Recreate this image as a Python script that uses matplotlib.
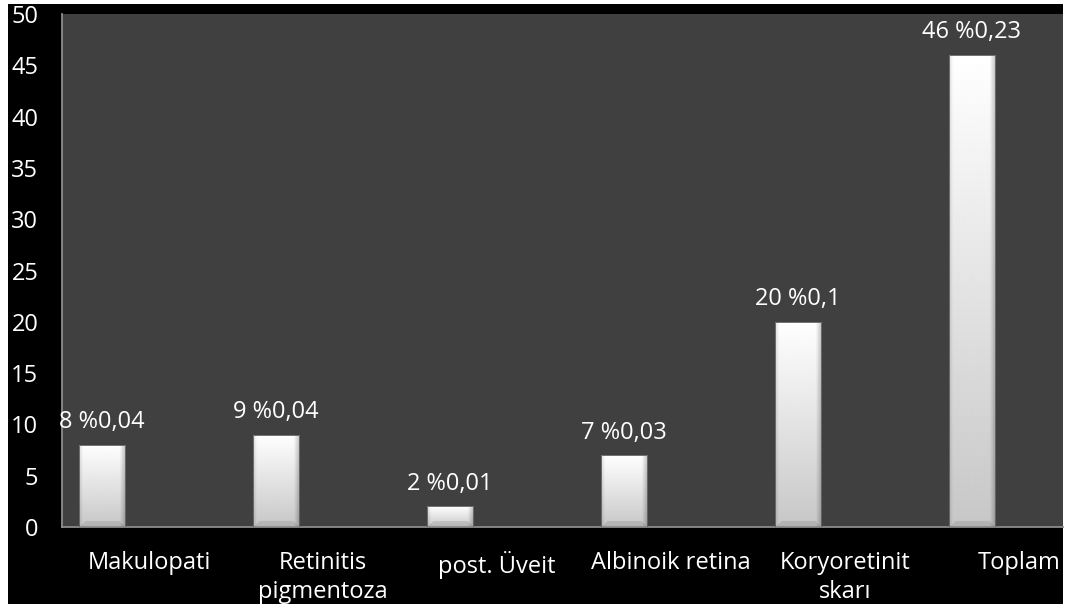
import numpy as np
import matplotlib
matplotlib.use("Agg")
import matplotlib.pyplot as plt
from matplotlib.patches import Rectangle

# Vaka sayıları ve oranları
categories = ["Makulopati", "Retinitis\npigmentoza", "post. Üveit",
              "Albinoik retina", "Koryoretinit\nskarı", "Toplam"]
counts = [8, 9, 2, 7, 20, 46]
ratios = [0.04, 0.04, 0.01, 0.03, 0.1, 0.23]
yticks = list(range(0, 51, 5))

W, H = 1069, 610
plt.rcParams["font.family"] = ["Open Sans", "DejaVu Sans"]
FS = 17

fig = plt.figure(figsize=(W / 100, H / 100), dpi=100, facecolor="white")
# black frame behind the chart
fig.patches.append(Rectangle((8 / W, 6 / H), 1055 / W, 600 / H,
                             transform=fig.transFigure, facecolor="black",
                             edgecolor="none", zorder=-10))

ax = fig.add_axes([62 / W, 83 / H, 1001 / W, 513 / H])
ax.set_facecolor("#404040")
ax.set_xlim(-0.5, 5.254)
ax.set_ylim(0, 50)
for s in ["top", "right"]:
    ax.spines[s].set_visible(False)
for s in ["left", "bottom"]:
    ax.spines[s].set_color("#8c8c8c")
    ax.spines[s].set_linewidth(1.3)

x = np.arange(len(categories))
bars = ax.bar(x - 0.27, counts, width=0.265, color="none",
              edgecolor="#5a5a5a", linewidth=0.6, zorder=3)


def bar_shading(nx, ny):
    """White-to-gray fill with a soft bevel, size ny x nx pixels."""
    u = (np.arange(nx) + 0.5)[None, :]
    v = (np.arange(ny) + 0.5)[:, None]
    t = v / ny
    img = 0.78 + 0.22 * t + 0 * u
    b = 4.0
    left = np.clip(u / b, 0, 1)
    right = np.clip((nx - u) / (b + 2), 0, 1)
    img = img * (0.86 + 0.14 * left) * (0.74 + 0.26 * right)
    bottom = (v < 6) & (u > v) & (nx - u > v)
    img = np.where(bottom, img * 0.9, img)
    return np.clip(img, 0, 1)


fig.canvas.draw()
for rect in bars:
    x0, x1 = rect.get_x(), rect.get_x() + rect.get_width()
    h = rect.get_height()
    p0 = ax.transData.transform((x0, 0))
    p1 = ax.transData.transform((x1, h))
    nx = max(int(round(p1[0] - p0[0])), 2)
    ny = max(int(round(p1[1] - p0[1])), 2)
    im = ax.imshow(bar_shading(nx, ny), cmap="gray", vmin=0, vmax=1,
                   extent=(x0, x1, 0, h), origin="lower", aspect="auto",
                   interpolation="bilinear", zorder=2)
    im.set_clip_path(rect)

for rect, c, r in zip(bars, counts, ratios):
    label = f"{c} %{str(r).replace('.', ',')}"
    ax.annotate(label, (rect.get_x() + rect.get_width() / 2, c),
                xytext=(0, 12), textcoords="offset points",
                ha="center", va="baseline", color="white", fontsize=FS)

ax.set_xticks(x)
ax.set_xticklabels(categories, color="white", fontsize=FS, linespacing=1.32)
ax.set_yticks(yticks)
ax.set_yticklabels([str(t) for t in yticks], color="white", fontsize=FS)
ax.tick_params(axis="x", length=0, pad=17)
ax.tick_params(axis="y", length=0, pad=17)

ax.set_xlim(-0.5, 5.254)
ax.set_ylim(0, 50)

fig.savefig("out.png", dpi=100, facecolor="white")
